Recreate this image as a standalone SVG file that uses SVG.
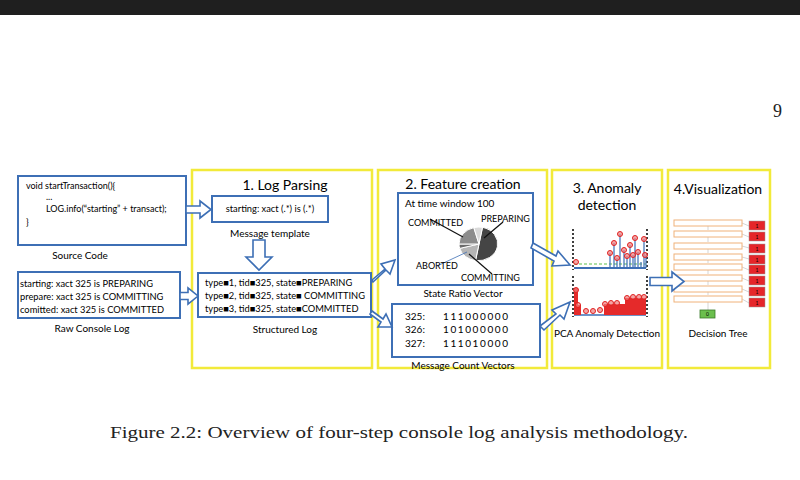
<svg xmlns="http://www.w3.org/2000/svg" width="800" height="480" viewBox="0 0 800 480">
<style>
.sans{font-family:Lato,"Open Sans","Liberation Sans",sans-serif;fill:#000}
.serif{font-family:"Liberation Serif","DejaVu Serif",serif;fill:#222}
.blue{fill:#fff;stroke:#3d6fb5;stroke-width:2}
.yel{fill:none;stroke:#f2ea3a;stroke-width:2.5}
.harr{fill:#fff;stroke:#3d6fb5;stroke-width:1.6;stroke-linejoin:miter}
.title{font-size:14px;text-anchor:middle}
.cap{font-size:10px;text-anchor:middle}
.dt{fill:#fff;stroke:#f0b27a;stroke-width:1}
.red{fill:#e5262a;stroke:#999;stroke-width:0.5}
.dot{stroke:#000;stroke-width:1.5;stroke-dasharray:2 2}
.rc{fill:#f08080;stroke:#e02020;stroke-width:1;fill-opacity:0.7}
.sp{stroke:#3d6fb5;stroke-width:1.2}
</style>
<rect width="800" height="480" fill="#fff"/>
<rect x="0" y="0" width="800" height="15" fill="#1f1f1f"/>
<text class="serif" x="773" y="117" font-size="18">9</text>

<g id="source-code">
<rect class="blue" x="18" y="176" width="168" height="69"/>
<text class="sans" font-size="9" x="26" y="189">void startTransaction(){</text>
<text class="sans" font-size="9" x="46" y="200">...</text>
<text class="sans" font-size="9" x="46" y="212">LOG.info(“starting” + transact);</text>
<text class="sans" font-size="9" x="26" y="225">}</text>
<text class="sans cap" x="80" y="259">Source Code</text>
</g>

<g id="raw-log">
<rect class="blue" x="18" y="272" width="162" height="46"/>
<text class="sans" font-size="9.3" x="20" y="287">starting: xact 325 is PREPARING</text>
<text class="sans" font-size="9.3" x="20" y="300">prepare: xact 325 is COMMITTING</text>
<text class="sans" font-size="9.3" x="20" y="313">comitted: xact 325 is COMMITTED</text>
<text class="sans cap" x="92" y="332">Raw Console Log</text>
</g>

<g id="step1">
<rect class="yel" x="192" y="170" width="180" height="198"/>
<text class="sans title" x="285" y="190">1. Log Parsing</text>
</g>
<g id="message-template">
<rect class="blue" x="212" y="196" width="116" height="26"/>
<text class="sans" font-size="9.3" x="270" y="212" text-anchor="middle">starting: xact (.*) is (.*)</text>
<text class="sans cap" x="270" y="237">Message template</text>
</g>
<g id="structured-log">
<rect class="blue" x="198" y="273" width="173" height="44"/>
<text class="sans" font-size="9.3" x="205" y="286">type■1, tid■325, state■PREPARING</text>
<text class="sans" font-size="9.3" x="205" y="299">type■2, tid■325, state■ COMMITTING</text>
<text class="sans" font-size="9.3" x="205" y="312">type■3, tid■325, state■COMMITTED</text>
<text class="sans cap" x="285" y="333">Structured Log</text>
</g>

<g id="step2">
<rect class="yel" x="378" y="170" width="169" height="198"/>
<text class="sans title" x="463" y="189">2. Feature creation</text>
</g>
<g id="state-ratio">
<rect class="blue" x="398" y="193" width="135" height="92"/>
<text class="sans" font-size="10" x="405" y="207">At time window 100</text>
<path d="M479,244 L482.5,227.3 A20,17 0 0 1 475.5,260.7 Z" fill="#454545" stroke="#fff" stroke-width="1"/>
<path d="M479,244 L475.5,260.7 A20,17 0 0 1 459.7,248.4 Z" fill="#b5b5b5" stroke="#fff" stroke-width="1"/>
<path d="M479,244 L459.7,248.4 A20,17 0 0 1 459,244 Z" fill="#6a6a6a" stroke="#fff" stroke-width="1"/>
<path d="M479,244 L459,244 A20,17 0 0 1 473.8,227.6 Z" fill="#8c8c8c" stroke="#fff" stroke-width="1"/>
<path d="M479,244 L473.8,227.6 A20,17 0 0 1 482.5,227.3 Z" fill="#d9d9d9" stroke="#fff" stroke-width="1"/>
<line x1="430" y1="219" x2="463" y2="237" stroke="#111" stroke-width="1.2"/>
<line x1="503" y1="222" x2="484" y2="238" stroke="#111" stroke-width="1.2"/>
<line x1="467" y1="252" x2="437" y2="266" stroke="#3d6fb5" stroke-width="0.8"/>
<line x1="469" y1="254" x2="492" y2="274" stroke="#111" stroke-width="1.2"/>
<text class="sans" font-size="9" x="408" y="226">COMMITTED</text>
<text class="sans" font-size="9" x="481" y="222">PREPARING</text>
<text class="sans" font-size="9" x="416" y="269">ABORTED</text>
<text class="sans" font-size="9" x="461" y="281">COMMITTING</text>
<text class="sans cap" x="463" y="297">State Ratio Vector</text>
</g>
<g id="count-vectors">
<rect class="blue" x="392" y="304" width="148" height="53"/>
<text class="sans" font-size="10" x="405" y="320">325:</text>
<text class="sans" font-size="10" x="405" y="333">326:</text>
<text class="sans" font-size="10" x="405" y="347">327:</text>
<text class="sans" font-size="10" x="443" y="320" letter-spacing="1.6">111000000</text>
<text class="sans" font-size="10" x="443" y="333" letter-spacing="1.6">101000000</text>
<text class="sans" font-size="10" x="443" y="347" letter-spacing="1.6">111010000</text>
<text class="sans cap" x="463" y="369">Message Count Vectors</text>
</g>

<g id="step3">
<rect class="yel" x="552" y="170" width="110" height="198"/>
<text class="sans title" x="607" y="193">3. Anomaly</text>
<text class="sans title" x="607" y="210">detection</text>
</g>
<g id="pca-charts">
<line class="dot" x1="573" y1="229" x2="573" y2="270"/>
<line class="dot" x1="647" y1="229" x2="647" y2="270"/>
<line x1="574" y1="264" x2="646" y2="264" stroke="#5cbf4a" stroke-width="1.2" stroke-dasharray="3 2"/>
<line x1="574" y1="268" x2="646" y2="268" stroke="#3d6fb5" stroke-width="2"/>
<path class="sp" d="M610,268V253M614,268V243M617,268V258M620,268V234M624,268V250M627,268V256M630,268V245M633,268V255M635,268V238M638,268V252M641,268V262M644,268V239M646,268V255" />
<circle class="rc" cx="576" cy="262" r="2.5"/>
<circle class="rc" cx="610" cy="253" r="2.5"/>
<circle class="rc" cx="614" cy="243" r="2.5"/>
<circle class="rc" cx="617" cy="258" r="2.5"/>
<circle class="rc" cx="620" cy="234" r="2.5"/>
<circle class="rc" cx="624" cy="250" r="2.5"/>
<circle class="rc" cx="627" cy="256" r="2.5"/>
<circle class="rc" cx="630" cy="245" r="2.5"/>
<circle class="rc" cx="633" cy="255" r="2.5"/>
<circle class="rc" cx="635" cy="238" r="2.5"/>
<circle class="rc" cx="638" cy="252" r="2.5"/>
<circle class="rc" cx="644" cy="239" r="2.5"/>
<circle class="rc" cx="645" cy="255" r="2.5"/>
<line class="dot" x1="573" y1="276" x2="573" y2="317"/>
<line class="dot" x1="647" y1="276" x2="647" y2="317"/>
<line x1="574" y1="315" x2="646" y2="315" stroke="#3d6fb5" stroke-width="1.5"/>
<path d="M574,315V288H578V305H581V315Z" fill="#e52a2a"/>
<path d="M604,315V304H625V298H646V315Z" fill="#e52a2a"/>
<circle class="rc" cx="576" cy="290" r="2.5"/>
<circle class="rc" cx="578" cy="305" r="2.5"/>
<circle class="rc" cx="586" cy="311" r="2.5"/>
<circle class="rc" cx="593" cy="311" r="2.5"/>
<circle class="rc" cx="600" cy="310" r="2.5"/>
<circle class="rc" cx="605" cy="304" r="2.5"/>
<circle class="rc" cx="611" cy="303" r="2.5"/>
<circle class="rc" cx="617" cy="303" r="2.5"/>
<circle class="rc" cx="627" cy="298" r="2.5"/>
<circle class="rc" cx="633" cy="297" r="2.5"/>
<circle class="rc" cx="639" cy="297" r="2.5"/>
<circle class="rc" cx="644" cy="297" r="2.5"/>
<text class="sans cap" font-size="9.5" x="607" y="337">PCA Anomaly Detection</text>
</g>

<g id="step4">
<rect class="yel" x="668" y="170" width="102" height="198"/>
<text class="sans title" x="718" y="194">4.Visualization</text>
</g>
<g id="decision-tree">
<g stroke="#aaa" stroke-width="0.5">
<line x1="742" y1="223" x2="749" y2="226"/><line x1="742" y1="234" x2="749" y2="237"/>
<line x1="742" y1="246" x2="749" y2="248"/><line x1="742" y1="257" x2="749" y2="259"/>
<line x1="742" y1="267" x2="749" y2="270"/><line x1="742" y1="278" x2="749" y2="281"/>
<line x1="742" y1="289" x2="749" y2="292"/><line x1="742" y1="299" x2="749" y2="303"/>
<line x1="708" y1="226" x2="708" y2="230"/><line x1="708" y1="237" x2="708" y2="242"/>
<line x1="708" y1="249" x2="708" y2="253"/><line x1="708" y1="260" x2="708" y2="263"/>
<line x1="708" y1="270" x2="708" y2="274"/><line x1="708" y1="281" x2="708" y2="285"/>
<line x1="708" y1="292" x2="708" y2="295"/><line x1="708" y1="302" x2="708" y2="310"/>
</g>
<rect class="dt" x="674" y="220" width="68" height="6"/>
<rect class="dt" x="674" y="231" width="68" height="6"/>
<rect class="dt" x="674" y="243" width="68" height="6"/>
<rect class="dt" x="674" y="254" width="68" height="6"/>
<rect class="dt" x="674" y="264" width="68" height="6"/>
<rect class="dt" x="674" y="275" width="68" height="6"/>
<rect class="dt" x="674" y="286" width="68" height="6"/>
<rect class="dt" x="674" y="296" width="68" height="6"/>
<rect class="red" x="749" y="221" width="16" height="9"/>
<rect class="red" x="749" y="232" width="16" height="9"/>
<rect class="red" x="749" y="244" width="16" height="9"/>
<rect class="red" x="749" y="255" width="16" height="9"/>
<rect class="red" x="749" y="265" width="16" height="9"/>
<rect class="red" x="749" y="276" width="16" height="9"/>
<rect class="red" x="749" y="287" width="16" height="9"/>
<rect class="red" x="749" y="298" width="16" height="9"/>
<g class="sans" font-size="5" text-anchor="middle">
<text x="757" y="228">1</text><text x="757" y="239">1</text><text x="757" y="251">1</text><text x="757" y="262">1</text>
<text x="757" y="272">1</text><text x="757" y="283">1</text><text x="757" y="294">1</text><text x="757" y="305">1</text>
</g>
<rect x="700" y="310" width="15" height="8" fill="#6bbf4e" stroke="#3a7a2a" stroke-width="0.8"/>
<text class="sans" font-size="5" x="707.5" y="316" text-anchor="middle">0</text>
<text class="sans cap" font-size="10.5" x="718" y="337">Decision Tree</text>
</g>

<g id="connectors">
<path class="harr" d="M186,206 H200 V201 L211,209.5 L200,218 V213 H186 Z"/>
<path class="harr" d="M180,292.5 H188 V288 L198,296 L188,304 V299.5 H180 Z"/>
<path class="harr" d="M253,240 H265 V257 H272 L259,270 L246,257 H253 Z"/>
<path class="harr" d="M372,280 L385,269 L381,264 L395,260 L390,274 L386,270 L373,282 Z"/>
<path class="harr" d="M372,311 L383,319 L386,314 L392,327 L378,327 L381,322 L370,314 Z"/>
<path class="harr" d="M533,243 L556,256 L558,251 L570,265 L552,266 L554,261 L531,248 Z"/>
<path class="harr" d="M540,326 L556,314 L552,310 L570,302 L564,319 L560,315 L544,330 Z"/>
<path class="harr" d="M650,277.5 H672 V272 L684,281.5 L672,291 V285.5 H650 Z"/>
</g>

<text class="serif" x="110" y="438" font-size="17" textLength="578" lengthAdjust="spacingAndGlyphs">Figure 2.2: Overview of four-step console log analysis methodology.</text>
</svg>
